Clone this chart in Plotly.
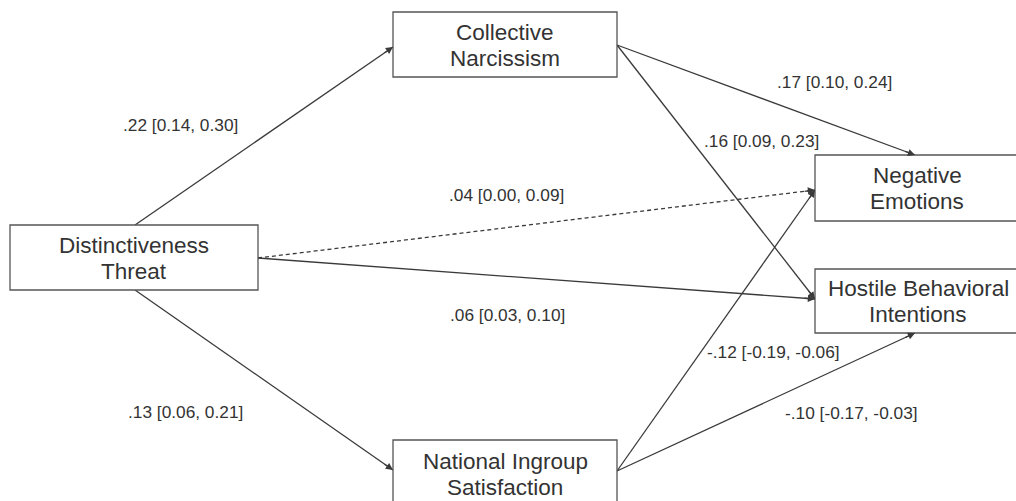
import plotly.graph_objects as go

# ---- data ----
node_lines = [["Distinctiveness", "Threat"], ["Collective", "Narcissism"],
              ["National Ingroup", "Satisfaction"], ["Negative", "Emotions"],
              ["Hostile Behavioral", "Intentions"]]
path_from = [0, 0, 0, 0, 1, 1, 2, 2]
path_to = [1, 2, 3, 4, 3, 4, 3, 4]
path_labels = [".22 [0.14, 0.30]", ".13 [0.06, 0.21]", ".04 [0.00, 0.09]", ".06 [0.03, 0.10]",
               ".17 [0.10, 0.24]", ".16 [0.09, 0.23]", "-.12 [-0.19, -0.06]", "-.10 [-0.17, -0.03]"]
path_significant = [True, True, False, True, True, True, True, True]

# ---- layout (positions in pixel space) ----
boxes = [(10, 225, 258, 290), (393, 12, 617, 77), (393, 440, 617, 506),
         (815, 155, 1020, 221), (815, 269, 1020, 333)]
text_centers = [(134, 258), (505, 45), (505, 474), (917, 188), (918, 301)]
line_gap = 26
starts = [(135, 225), (135, 290), (258, 258), (258, 258), (617, 45), (617, 45), (617, 471), (617, 471)]
ends = [(393, 47), (393, 470), (815, 190), (815, 299), (915, 155), (815, 299), (815, 190), (915, 333)]
label_pos = [(180, 125), (185, 412), (506, 195), (507, 315), (834, 82), (761, 141), (773, 352), (851, 413)]

LINE = "#3a3a3a"
TEXT = "#333333"
FONT = "Liberation Sans, Arial, sans-serif"

fig = go.Figure()
shapes = []
annotations = []

for (x0, y0, x1, y1) in boxes:
    shapes.append(dict(type="rect", xref="x", yref="y", x0=x0, y0=y0, x1=x1, y1=y1,
                       line=dict(color="#555555", width=1.3), fillcolor="white", layer="above"))

for i, (f, t) in enumerate(zip(path_from, path_to)):
    (sx, sy), (ex, ey) = starts[i], ends[i]
    fig.add_trace(go.Scatter(x=[sx, ex], y=[sy, ey], mode="lines",
                             line=dict(color=LINE, width=1.3,
                                       dash="solid" if path_significant[i] else "4px,3px"),
                             hoverinfo="skip", showlegend=False))
    dx, dy = ex - sx, ey - sy
    L = (dx ** 2 + dy ** 2) ** 0.5
    k = 12 / L
    annotations.append(dict(x=ex, y=ey, xref="x", yref="y", ax=-dx * k, ay=-dy * k,
                            axref="pixel", ayref="pixel", showarrow=True, arrowhead=2,
                            arrowsize=1.1, arrowwidth=1.3, arrowcolor=LINE, text=""))
    annotations.append(dict(x=label_pos[i][0], y=label_pos[i][1], xref="x", yref="y",
                            text=path_labels[i], showarrow=False,
                            font=dict(family=FONT, size=17.3, color=TEXT)))

for lines, (cx, cy) in zip(node_lines, text_centers):
    n = len(lines)
    for j, ln in enumerate(lines):
        yy = cy + (j - (n - 1) / 2) * line_gap
        annotations.append(dict(x=cx, y=yy, xref="x", yref="y", text=ln, showarrow=False,
                                font=dict(family=FONT, size=22.5, color=TEXT)))

fig.update_layout(
    width=1016, height=501, margin=dict(l=0, r=0, t=0, b=0),
    paper_bgcolor="white", plot_bgcolor="white",
    xaxis=dict(range=[0, 1016], visible=False, fixedrange=True),
    yaxis=dict(range=[501, 0], visible=False, fixedrange=True),
    shapes=shapes, annotations=annotations, showlegend=False,
)

fig.write_html("out.html", config={"displayModeBar": False},
               post_script="document.body.style.margin='0';document.body.style.overflow='hidden';")
